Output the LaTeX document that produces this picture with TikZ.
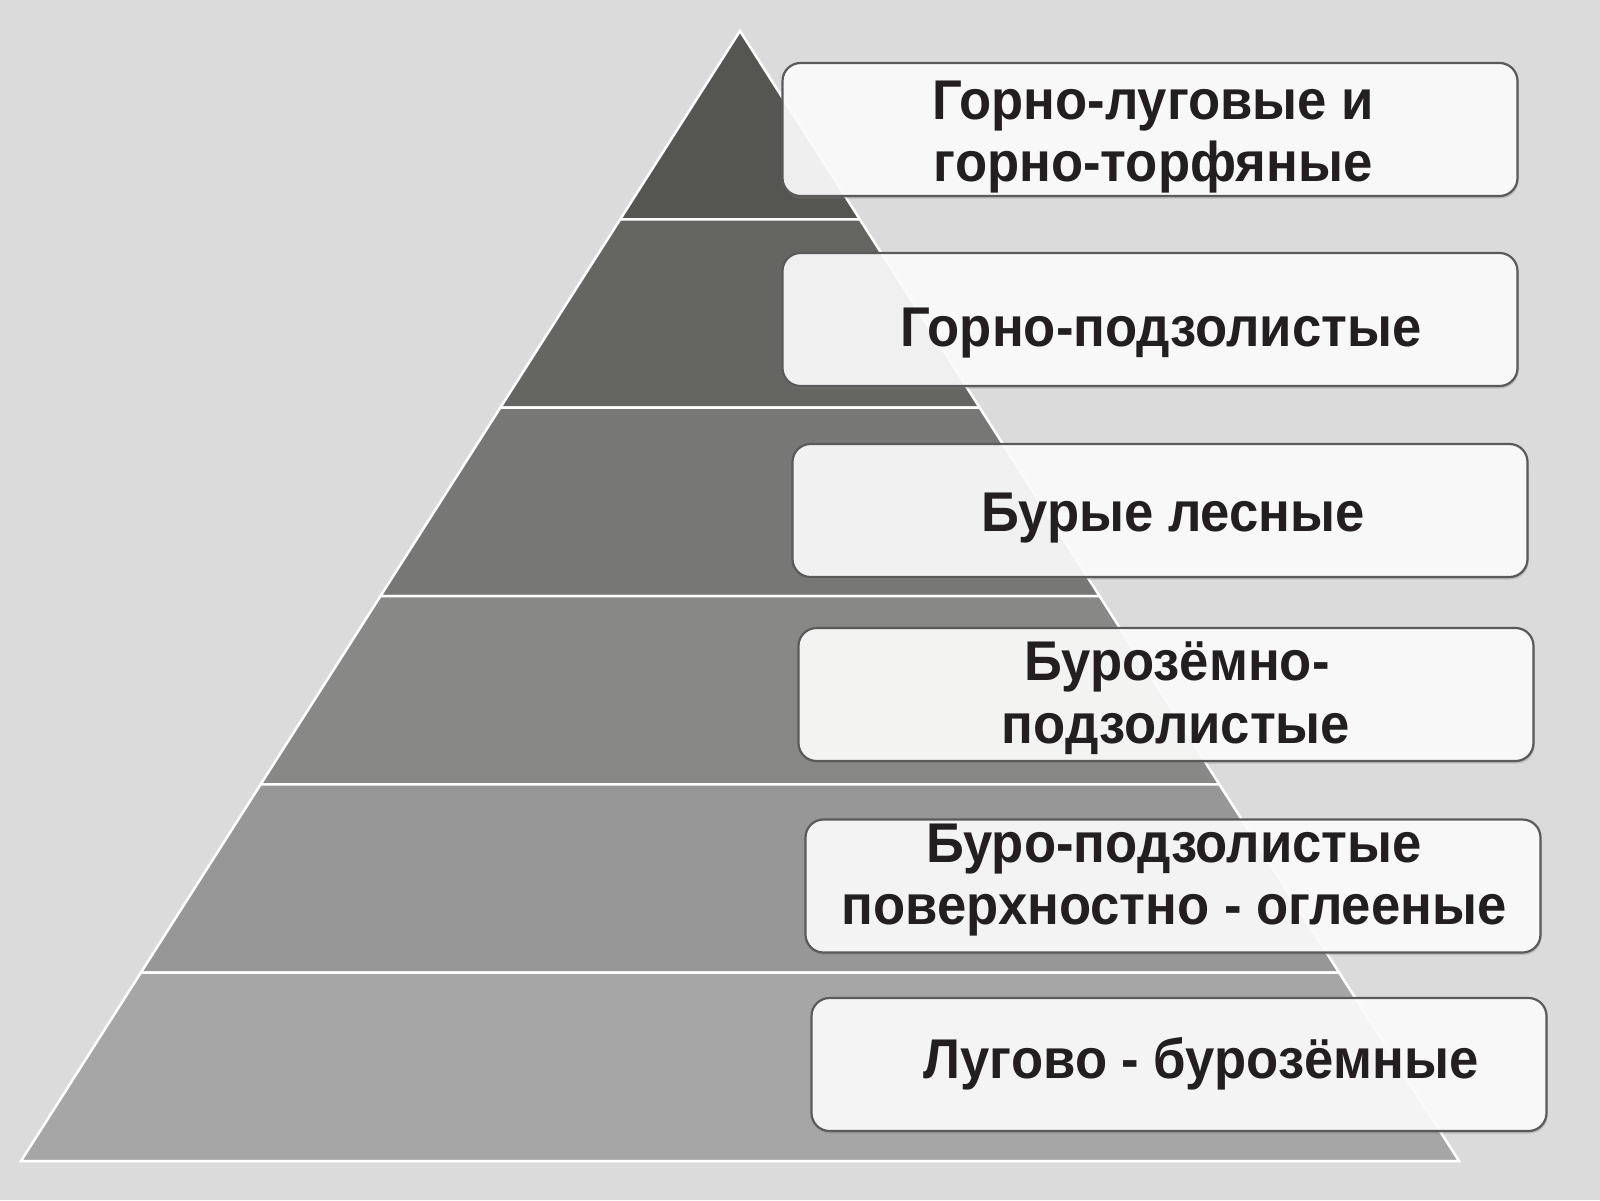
\documentclass[tikz,border=0pt]{standalone}
\usepackage{fontspec}
\setmainfont{Liberation Sans}[FakeStretch=0.94]
\usetikzlibrary{shadows}
\definecolor{bg}{HTML}{DBDBDB}
\definecolor{lay1}{HTML}{555651}
\definecolor{lay2}{HTML}{656562}
\definecolor{lay3}{HTML}{777775}
\definecolor{lay4}{HTML}{888887}
\definecolor{lay5}{HTML}{979797}
\definecolor{lay6}{HTML}{A6A6A6}
\definecolor{boxline}{HTML}{5A5A5A}
\definecolor{txt}{HTML}{231F20}
\tikzset{
  layer/.style={draw=white, line width=2.5pt, line join=miter},
  soilbox/.style={draw=boxline, line width=2.2pt, fill=white, fill opacity=0.9,
    rounded corners=18pt, minimum width=735pt, minimum height=133pt, inner sep=0pt,
    drop shadow={opacity=0.35, shadow xshift=1pt, shadow yshift=-2.5pt}},
  soiltext/.style={anchor=base, inner sep=0pt, text=txt,
    font=\fontsize{56}{62}\selectfont\bfseries}
}
\begin{document}
\begin{tikzpicture}[x=1pt,y=-1pt]
\fill[bg] (0,0) rectangle (1600,1200);
\useasboundingbox (0,0) rectangle (1600,1200);
% pyramid layers
\filldraw[layer, fill=lay1] (740,31) -- (859.8,219.3) -- (620.2,219.3) -- cycle;
\filldraw[layer, fill=lay2] (620.2,219.3) -- (859.8,219.3) -- (979.7,407.7) -- (500.3,407.7) -- cycle;
\filldraw[layer, fill=lay3] (500.3,407.7) -- (979.7,407.7) -- (1099.5,596) -- (380.5,596) -- cycle;
\filldraw[layer, fill=lay4] (380.5,596) -- (1099.5,596) -- (1219.3,784.3) -- (260.7,784.3) -- cycle;
\filldraw[layer, fill=lay5] (260.7,784.3) -- (1219.3,784.3) -- (1339.2,972.7) -- (140.8,972.7) -- cycle;
\filldraw[layer, fill=lay6] (140.8,972.7) -- (1339.2,972.7) -- (1459,1161) -- (21,1161) -- cycle;
% boxes
\node[soilbox] (b1) at (1150,129.5) {};
\node[soilbox] (b2) at (1150,319.5) {};
\node[soilbox] (b3) at (1160,510.5) {};
\node[soilbox] (b4) at (1166,694.5) {};
\node[soilbox] (b5) at (1173,886) {};
\node[soilbox] (b6) at (1179,1064.5) {};
% texts
\node[soiltext] (t1a) at (1153,119.4) {Горно-луговые и};
\node[soiltext] (t1b) at (1153,181.6) {горно-торфяные};
\node[soiltext] (t2) at (1161,346.9) {Горно-подзолистые};
\node[soiltext] (t3) at (1173,531.6) {Бурые лесные};
\node[soiltext] (t4a) at (1177,680.6) {Бурозёмно-};
\node[soiltext] (t4b) at (1176,743.9) {подзолистые};
\node[soiltext] (t5a) at (1174,862.2) {Буро-подзолистые};
\node[soiltext] (t5b) at (1174,924.5) {поверхностно - оглееные};
\node[soiltext] (t6) at (1201,1078.5) {Лугово - бурозёмные};
\end{tikzpicture}
\end{document}
